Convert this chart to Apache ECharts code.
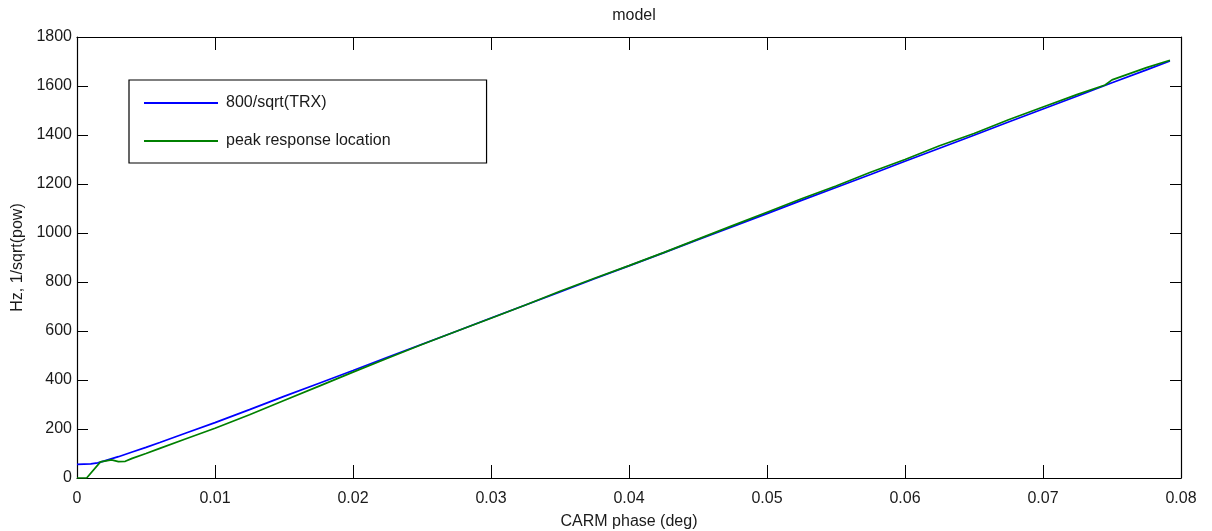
<!DOCTYPE html>
<html>
<head>
<meta charset="utf-8">
<script src="https://cdn.jsdelivr.net/npm/echarts@6/dist/echarts.min.js"></script>
<style>
  html, body { margin: 0; padding: 0; background: #fff; }
  #chart { width: 1212px; height: 531px; }
</style>
</head>
<body>
<div id="chart"></div>
<script>
// CARM phase (deg) samples and the two curves plotted against them
const trxPhase = [0, 0.001, 0.0015, 0.002, 0.003, 0.004, 0.005, 0.006, 0.008, 0.01,
  0.0125, 0.015, 0.0175, 0.02, 0.0225, 0.025, 0.0275, 0.03, 0.0325, 0.035,
  0.0375, 0.04, 0.0425, 0.045, 0.0475, 0.05, 0.0525, 0.055, 0.0575, 0.06,
  0.0625, 0.065, 0.0675, 0.07, 0.0725, 0.075, 0.0775, 0.0792];
const trxValues = [56, 58, 62, 70, 87, 106, 125, 145, 186, 226,
  279, 333, 386, 439, 493, 546, 599, 653, 706, 759,
  813, 866, 919, 973, 1026, 1079, 1133, 1186, 1239, 1293,
  1346, 1399, 1453, 1506, 1559, 1613, 1666, 1702];

const peakPhase = [0, 0.0007, 0.0017, 0.0025, 0.003, 0.0035, 0.004, 0.005, 0.006, 0.008,
  0.01, 0.0125, 0.015, 0.0175, 0.02, 0.0225, 0.025, 0.0275, 0.03, 0.0325,
  0.035, 0.0375, 0.04, 0.0425, 0.045, 0.0475, 0.05, 0.0525, 0.055, 0.0575,
  0.06, 0.0625, 0.065, 0.0675, 0.07, 0.0725, 0.0745, 0.075, 0.0775, 0.0792];
const peakValues = [0, 0, 66, 74, 67, 68, 80, 100, 121, 162,
  203, 258, 316, 374, 432, 489, 545, 599, 652, 706,
  762, 815, 867, 920, 975, 1030, 1085, 1140, 1192, 1248,
  1300, 1356, 1406, 1462, 1514, 1566, 1604, 1625, 1675, 1705];

const xTicks = { min: 0, max: 0.08, interval: 0.01 };
const yTicks = { min: 0, max: 1800, interval: 200 };

const FONT = '"Liberation Sans", Arial, sans-serif';
const textCol = '#1a1a1a';

const zip = (xs, ys) => xs.map((x, i) => [x, ys[i]]);

const chart = echarts.init(document.getElementById('chart'), null, { renderer: 'canvas' });

// box outline: every axis line stays on its own grid edge
const boxAxisLine = { show: true, onZero: false, lineStyle: { color: '#000', width: 1.2 } };

chart.setOption({
  backgroundColor: '#fff',
  animation: false,
  title: {
    text: 'model',
    left: 629,
    top: 3,
    textAlign: 'center',
    textStyle: { fontFamily: FONT, fontSize: 16, fontWeight: 'normal', color: textCol }
  },
  grid: { left: 77, right: 31, top: 37, bottom: 53, containLabel: false, outerBoundsMode: 'none' },
  legend: {
    left: 129,
    top: 80,
    orient: 'vertical',
    itemWidth: 74,
    itemHeight: 14,
    itemGap: 22,
    padding: [15, 96, 14, 14],
    borderColor: '#000',
    borderWidth: 1.2,
    backgroundColor: '#fff',
    itemStyle: { opacity: 0 },
    textStyle: { fontFamily: FONT, fontSize: 16, color: textCol, padding: [0, 0, 0, 3] },
    data: ['800/sqrt(TRX)', 'peak response location']
  },
  xAxis: [
    {
      type: 'value', position: 'bottom', ...xTicks,
      name: 'CARM phase (deg)', nameLocation: 'middle', nameGap: 36,
      nameTextStyle: { fontFamily: FONT, fontSize: 16, color: textCol },
      axisLine: boxAxisLine,
      axisTick: { inside: true, length: 13, lineStyle: { color: '#000' } },
      axisLabel: {
        fontFamily: FONT, fontSize: 16, color: textCol, margin: 13,
        formatter: v => (v === 0 ? '0' : v.toFixed(2))
      },
      splitLine: { show: false }
    },
    {
      type: 'value', position: 'top', ...xTicks,
      axisLine: boxAxisLine,
      axisTick: { inside: true, length: 13, lineStyle: { color: '#000' } },
      axisLabel: { show: false },
      splitLine: { show: false }
    }
  ],
  yAxis: [
    {
      type: 'value', position: 'left', ...yTicks,
      name: 'Hz, 1/sqrt(pow)', nameLocation: 'middle', nameGap: 41, nameRotate: 90,
      nameTextStyle: { fontFamily: FONT, fontSize: 16, color: textCol },
      axisLine: boxAxisLine,
      axisTick: { inside: true, length: 11, lineStyle: { color: '#000' } },
      axisLabel: {
        fontFamily: FONT, fontSize: 16, color: textCol, margin: 5,
        formatter: v => String(v)
      },
      splitLine: { show: false }
    },
    {
      type: 'value', position: 'right', ...yTicks,
      axisLine: boxAxisLine,
      axisTick: { inside: true, length: 11, lineStyle: { color: '#000' } },
      axisLabel: { show: false },
      splitLine: { show: false }
    }
  ],
  series: [
    {
      name: '800/sqrt(TRX)',
      type: 'line',
      xAxisIndex: 0, yAxisIndex: 0,
      symbol: 'none',
      lineStyle: { color: '#0000ff', width: 1.7 },
      itemStyle: { color: '#0000ff' },
      data: zip(trxPhase, trxValues)
    },
    {
      name: 'peak response location',
      type: 'line',
      xAxisIndex: 0, yAxisIndex: 0,
      symbol: 'none',
      lineStyle: { color: '#008000', width: 1.7 },
      itemStyle: { color: '#008000' },
      data: zip(peakPhase, peakValues)
    }
  ]
});
</script>
</body>
</html>
